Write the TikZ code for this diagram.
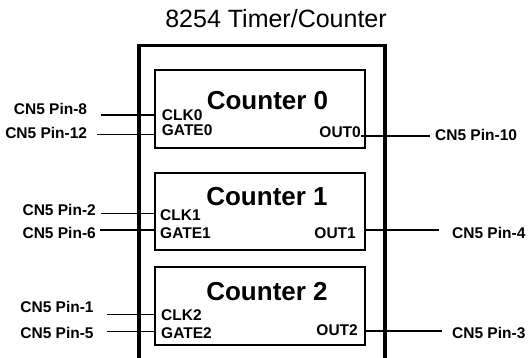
\documentclass[tikz,border=0pt]{standalone}
\usepackage{fontspec}
\setmainfont{Liberation Sans}
\usetikzlibrary{positioning}

\begin{document}
\begin{tikzpicture}[x=1pt, y=-1pt,
  chip/.style  = {rectangle, draw, line width=3.5pt, inner sep=0pt,
                  minimum width=246pt, minimum height=380pt},
  cnt/.style   = {rectangle, draw, line width=1.6pt, inner sep=0pt,
                  minimum width=210pt, minimum height=77.5pt},
  cname/.style = {font=\fontsize{26}{30}\selectfont\bfseries,
                  inner sep=0pt, anchor=base},
  sig/.style   = {font=\fontsize{15.5}{18}\selectfont\bfseries, inner sep=0pt},
  pinl/.style  = {sig, anchor=base east},
  pinr/.style  = {sig, anchor=base west},
  wire/.style  = {line width=1.5pt}
]
\clip (0,0) rectangle (530,358);

% , - Chip outline and title , -
\node[font=\fontsize{25}{30}\selectfont, inner sep=0pt, anchor=base]
     (title) at (276,27.5) {8254 Timer/Counter};
\node[chip] (chip) at (262,235.5) {};

% , - Counters , -
\node[cnt] (c0) at (260,109)   {};
\node[cnt] (c1) at (260,211.5) {};
\node[cnt] (c2) at (260,306)   {};
\node[cname] (c0name) at (267.5,110) {Counter 0};
\node[cname] (c1name) at (267,206)   {Counter 1};
\node[cname] (c2name) at (267,300)   {Counter 2};

% , - Counter pins , -
\node[sig, anchor=base west] (clk0)  at (161.7,120.5) {CLK0};
\node[sig, anchor=base west] (gate0) at (161.7,135.5) {GATE0};
\node[sig, anchor=base east] (out0)  at (361,138)     {OUT0};
\node[sig, anchor=base west] (clk1)  at (160,220.4)   {CLK1};
\node[sig, anchor=base west] (gate1) at (160,239)     {GATE1};
\node[sig, anchor=base east] (out1)  at (356,239)     {OUT1};
\node[sig, anchor=base west] (clk2)  at (161,320.7)   {CLK2};
\node[sig, anchor=base west] (gate2) at (161,338)     {GATE2};
\node[sig, anchor=base east] (out2)  at (358,335)     {OUT2};

% , - Connector pins , -
\node[pinl] (pin8)  at (87.3,114.5) {CN5 Pin-8};
\node[pinl] (pin12) at (87.3,139)   {CN5 Pin-12};
\node[pinr] (pin10) at (435,141)    {CN5 Pin-10};
\node[pinl] (pin2)  at (96,215.4)   {CN5 Pin-2};
\node[pinl] (pin6)  at (96,239)     {CN5 Pin-6};
\node[pinr] (pin4)  at (452,239)    {CN5 Pin-4};
\node[pinl] (pin1)  at (93.8,312)   {CN5 Pin-1};
\node[pinl] (pin5)  at (93.8,338)   {CN5 Pin-5};
\node[pinr] (pin3)  at (452,338)    {CN5 Pin-3};

% , - Wire ends , -
\coordinate (s8)  at (100.5,115);
\coordinate (s12) at (97,134.5);
\coordinate (e10) at (430,136);
\coordinate (s2)  at (101,213.7);
\coordinate (s6)  at (99.5,229.8);
\coordinate (e4)  at (438.5,229.8);
\coordinate (s1)  at (107.3,314.7);
\coordinate (s5)  at (107,331.5);
\coordinate (e3)  at (442,330.8);

% , - Wires , -
\draw[wire] (s8)  -- (s8 -| c0.west);
\draw[wire] (s12) -- (s12 -| c0.west);
\draw[wire] (out0.east |- e10) -- (e10);
\draw[wire] (s2)  -- (s2 -| c1.west);
\draw[wire] (s6)  -- (s6 -| c1.west);
\draw[wire] (e4 -| c1.east) -- (e4);
\draw[wire] (s1)  -- (s1 -| c2.west);
\draw[wire] (s5)  -- (s5 -| c2.west);
\draw[wire] (e3 -| c2.east) -- (e3);

\end{tikzpicture}
\end{document}
